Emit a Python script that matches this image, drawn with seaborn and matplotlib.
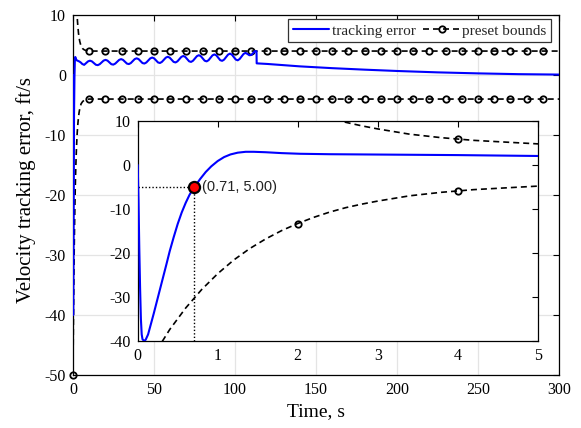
import numpy as np
import pandas as pd
import matplotlib
matplotlib.use("Agg")
import matplotlib.pyplot as plt
from matplotlib.lines import Line2D
import seaborn as sns

# ---------------- data ----------------
# velocity tracking error: start-up transient (first 5 s)
start_time = [0.0, 0.01, 0.02, 0.03, 0.04, 0.05, 0.06, 0.08, 0.10, 0.13, 0.16, 0.20,
              0.24, 0.28, 0.32, 0.36, 0.40, 0.45, 0.50, 0.55, 0.60, 0.65, 0.71, 0.78,
              0.85, 0.92, 1.00, 1.08, 1.16, 1.25, 1.35, 1.45, 1.60, 1.80, 2.03, 2.40,
              2.80, 3.20, 3.60, 4.00, 4.50, 5.00]
start_value = [0.0, -8.0, -19.0, -28.0, -35.0, -38.5, -39.6, -40.0, -39.7, -38.5, -36.5,
               -33.8, -31.0, -28.2, -25.4, -22.5, -19.6, -16.4, -13.4, -10.8, -8.6, -6.7,
               -5.0, -3.2, -1.6, -0.3, 0.9, 1.8, 2.4, 2.8, 3.0, 3.0, 2.9, 2.7, 2.55, 2.45,
               2.40, 2.35, 2.30, 2.25, 2.15, 2.05]
# oscillating phase up to the switch near 113 s
osc_time = [5.7, 6.9, 8.1, 9.3, 10.5, 11.7, 12.9, 14.1, 15.3, 16.5, 17.7, 18.9, 20.1,
            21.3, 22.5, 23.7, 24.9, 26.1, 27.3, 28.5, 29.7, 30.9, 32.1, 33.3, 34.5,
            35.7, 36.9, 38.1, 39.3, 40.5, 41.7, 42.9, 44.1, 45.3, 46.5, 47.7, 48.9,
            50.1, 51.3, 52.5, 53.7, 54.9, 56.1, 57.3, 58.5, 59.7, 60.9, 62.1, 63.3,
            64.5, 65.7, 66.9, 68.1, 69.3, 70.5, 71.7, 72.9, 74.1, 75.3, 76.5, 77.7,
            78.9, 80.1, 81.3, 82.5, 83.7, 84.9, 86.1, 87.3, 88.5, 89.7, 90.9, 92.1,
            93.3, 94.5, 95.7, 96.9, 98.1, 99.3, 100.5, 101.7, 102.9, 104.1, 105.3,
            106.5, 107.7, 108.9, 110.1, 111.3, 112.4, 113.3]
osc_value = [1.85, 1.70, 2.00, 2.28, 2.40, 2.28, 2.00, 1.72, 1.65, 1.81, 2.11, 2.41, 2.53,
             2.41, 2.11, 1.81, 1.74, 1.91, 2.22, 2.53, 2.66, 2.53, 2.22, 1.91, 1.83,
             2.00, 2.33, 2.66, 2.79, 2.66, 2.33, 2.00, 1.92, 2.10, 2.44, 2.78, 2.92,
             2.78, 2.44, 2.10, 2.01, 2.20, 2.55, 2.90, 3.05, 2.90, 2.55, 2.20, 2.10,
             2.29, 2.66, 3.03, 3.18, 3.03, 2.66, 2.29, 2.19, 2.39, 2.77, 3.15, 3.31,
             3.15, 2.77, 2.39, 2.28, 2.48, 2.88, 3.28, 3.44, 3.28, 2.88, 2.48, 2.37,
             2.58, 2.99, 3.40, 3.57, 3.40, 2.99, 2.58, 2.46, 2.68, 3.10, 3.52,
             3.70, 3.52, 3.30, 3.35, 3.70, 4.00, 3.95]
# after the switch: slow decay towards zero
decay_time = [113.4, 120.0, 140.0, 160.0, 180.0, 200.0, 225.0, 250.0, 275.0, 300.0]
decay_value = [1.95, 1.85, 1.45, 1.15, 0.90, 0.68, 0.45, 0.28, 0.15, 0.08]

# preset performance bound (upper branch; the lower branch mirrors it)
bound_time = [0.0, 0.2, 0.4, 0.6, 0.8, 1.0, 1.2, 1.4, 1.6, 1.8, 2.0, 2.2, 2.4, 2.6, 2.8,
              3.0, 3.2, 3.4, 3.6, 3.8, 4.0, 4.2, 4.4, 4.6, 4.8, 5.0, 6.0, 7.0, 8.0,
              10.0, 20.0, 30.0, 40.0, 50.0, 60.0, 70.0, 80.0, 90.0, 100.0, 110.0,
              120.0, 130.0, 140.0, 150.0, 160.0, 170.0, 180.0, 190.0, 200.0, 210.0,
              220.0, 230.0, 240.0, 250.0, 260.0, 270.0, 280.0, 290.0, 300.0]
bound_upper = [50.0, 43.2, 37.4, 32.5, 28.3, 24.7, 21.6, 19.0, 16.8, 14.9, 13.3, 11.9,
               10.7, 9.7, 8.9, 8.2, 7.6, 7.0, 6.6, 6.2, 5.9, 5.6, 5.4, 5.2, 5.0, 4.8,
               4.4, 4.2, 4.1, 4.0, 4.0, 4.0, 4.0, 4.0, 4.0, 4.0, 4.0, 4.0, 4.0, 4.0,
               4.0, 4.0, 4.0, 4.0, 4.0, 4.0, 4.0, 4.0, 4.0, 4.0, 4.0, 4.0, 4.0, 4.0,
               4.0, 4.0, 4.0, 4.0, 4.0]

# highlighted point where the error enters the bounds
pt_x = 0.71
pt_y = -5.00

main_xticks = [0, 50, 100, 150, 200, 250, 300]
main_yticks = [-50, -40, -30, -20, -10, 0, 10]
inset_xticks = [0, 1, 2, 3, 4, 5]
inset_yticks = [-40, -30, -20, -10, 0, 10]

err = pd.DataFrame({"t": start_time + osc_time + decay_time,
                    "e": start_value + osc_value + decay_value})
bnd = pd.DataFrame({"t": bound_time, "up": bound_upper})
bnd["low"] = -bnd["up"]

# marker positions along the bounds
t_arr = bnd["t"].to_numpy()
main_marks = [i for i, t in enumerate(t_arr) if t % 10 == 0 and t < 300]
inset_marks = [i for i, t in enumerate(t_arr) if t in (0.0, 2.0, 4.0)]

# ---------------- style ----------------
sns.set_theme(style="white")
plt.rcParams["font.family"] = ["Liberation Serif", "DejaVu Serif"]
plt.rcParams["axes.unicode_minus"] = False

fig = plt.figure(figsize=(5.81, 4.28), dpi=100)
ax = fig.add_axes([0.1256, 0.1238, 0.8365, 0.841])
axins = fig.add_axes([0.237, 0.2033, 0.6885, 0.514])

BLUE = "#0000ff"
DASH = (0, (3.6, 2.4))
mk = dict(marker="o", markersize=4.6, markerfacecolor="none",
          markeredgecolor="black", markeredgewidth=1.3)


def style_axes(a, xt, yt, xl, yl, grid):
    a.set_xlim(*xl)
    a.set_ylim(*yl)
    a.set_xticks(xt)
    a.set_yticks(yt)
    a.tick_params(axis="both", which="both", direction="in", length=4.5, width=0.8,
                  top=True, right=True, labelsize=11.5, colors="black", pad=5)
    for s in a.spines.values():
        s.set_color("black")
        s.set_linewidth(0.9)
        s.set_visible(True)
    if grid:
        a.grid(True, color="#e4e4e4", linewidth=0.9)
        a.set_axisbelow(True)
    else:
        a.grid(False)
    a.set_facecolor("white")


# ---------------- main axes ----------------
sns.lineplot(data=err, x="t", y="e", ax=ax, color=BLUE, linewidth=1.5,
             sort=False, estimator=None, zorder=3)
sns.lineplot(data=bnd, x="t", y="up", ax=ax, color="black", linewidth=1.2,
             linestyle=DASH, sort=False, estimator=None, markevery=main_marks, **mk)
sns.lineplot(data=bnd, x="t", y="low", ax=ax, color="black", linewidth=1.2,
             linestyle=DASH, sort=False, estimator=None)
ax.plot(bnd["t"], bnd["low"], linestyle="none", markevery=main_marks,
        clip_on=False, **mk)
style_axes(ax, main_xticks, main_yticks, (0, 300), (-50, 10), grid=True)
ax.set_xlabel("Time, s", fontsize=14, color="black", labelpad=4)
ax.set_ylabel("Velocity tracking error, ft/s", fontsize=15, color="black")
ax.yaxis.set_label_coords(-0.077, 0.515)

handles = [Line2D([], [], color=BLUE, linewidth=1.5),
           Line2D([], [], color="black", linewidth=1.2, linestyle=DASH, **mk)]
leg = ax.legend(handles, ["tracking error", "preset bounds"], ncol=2,
                loc="upper right", bbox_to_anchor=(0.9835, 0.988), borderaxespad=0,
                fontsize=11, frameon=True, fancybox=False, edgecolor="#333333",
                framealpha=1, handlelength=2.4, handletextpad=0.15,
                columnspacing=0.5, borderpad=0.3)
leg.get_frame().set_linewidth(0.9)

# ---------------- inset ----------------
axins.set_zorder(5)
sns.lineplot(data=err, x="t", y="e", ax=axins, color=BLUE, linewidth=1.5,
             sort=False, estimator=None, zorder=3)
for col in ("up", "low"):
    sns.lineplot(data=bnd, x="t", y=col, ax=axins, color="black", linewidth=1.2,
                 linestyle=DASH, sort=False, estimator=None,
                 markevery=inset_marks, **mk)
axins.hlines(pt_y, 0, pt_x, colors="black", linestyles=(0, (1, 1.5)), linewidth=1.0)
axins.vlines(pt_x, -40, pt_y, colors="black", linestyles=(0, (1, 1.5)), linewidth=1.0)
axins.plot([pt_x], [pt_y], marker="o", markersize=8, markerfacecolor="red",
           markeredgecolor="black", markeredgewidth=1.6, linestyle="none", zorder=6)
axins.text(pt_x + 0.09, pt_y, f"({pt_x:.2f}, {abs(pt_y):.2f})", fontsize=10.5,
           family=["Liberation Sans", "DejaVu Sans"], va="center", ha="left",
           color="#222222", zorder=7)
style_axes(axins, inset_xticks, inset_yticks, (0, 5), (-40, 10), grid=False)
axins.set_xlabel("")
axins.set_ylabel("")

fig.savefig("out.png", dpi=100)
